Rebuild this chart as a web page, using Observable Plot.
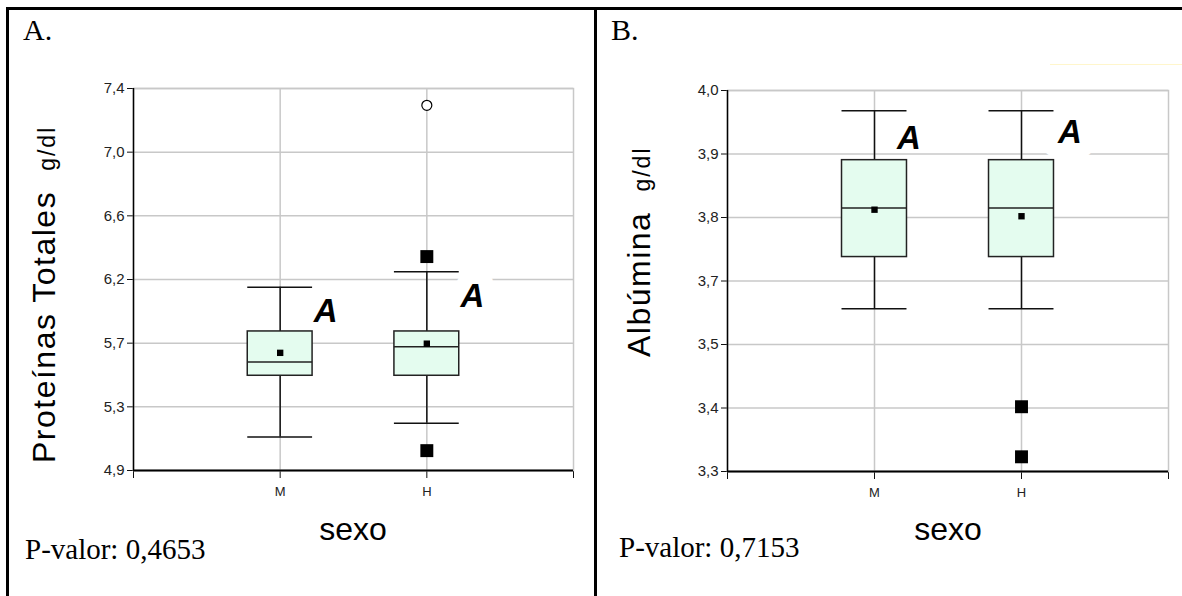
<!DOCTYPE html>
<html><head><meta charset="utf-8">
<script src="https://cdn.jsdelivr.net/npm/d3@7"></script>
<script src="https://cdn.jsdelivr.net/npm/@observablehq/plot@0.6"></script>
<style>
body{margin:0;background:#fff;}
#wrap{position:relative;width:1182px;height:596px;overflow:hidden;background:#fff;}
.pl{position:absolute;top:0;}
.ln{position:absolute;background:#000;}
#ov{position:absolute;left:0;top:0;pointer-events:none;}
</style></head><body>
<div id="wrap">
  <div id="pa" class="pl" style="left:0px"></div>
  <div id="pb" class="pl" style="left:595px"></div>
  <div class="ln" style="left:6px;top:7px;width:1176px;height:3px"></div>
  <div class="ln" style="left:6px;top:7px;width:3px;height:589px"></div>
  <div class="ln" style="left:594px;top:7px;width:3px;height:589px"></div>
  <div style="position:absolute;left:1050px;top:64px;width:132px;height:1px;background:#fff6cc"></div>
</div>
<script>
// ---------- data ----------
const categories = ["M", "H"];

// Panel A: Proteínas Totales (g/dl)
const protDomain = [4.9, 7.4];
const protTickLabels = ["4,9", "5,3", "5,7", "6,2", "6,6", "7,0", "7,4"];
const protQ1 = [5.52, 5.52];
const protMedian = [5.61, 5.71];
const protQ3 = [5.81, 5.81];
const protMean = [5.67, 5.73];
const protWhiskerLo = [5.12, 5.21];
const protWhiskerHi = [6.10, 6.20];
const protOutlierCat = ["H", "H"];
const protOutlierVal = [6.30, 5.03];
const protFarCat = ["H"];
const protFarVal = [7.29];
const protLetters = ["A", "A"];
const protLetterX = [1.31, 2.31];
const protLetterY = [5.87, 5.97];

// Panel B: Albúmina (g/dl)
const albDomain = [3.3, 4.0];
const albTickLabels = ["3,3", "3,4", "3,5", "3,7", "3,8", "3,9", "4,0"];
const albQ1 = [3.694, 3.694];
const albMedian = [3.784, 3.784];
const albQ3 = [3.872, 3.872];
const albMean = [3.781, 3.769];
const albWhiskerLo = [3.599, 3.599];
const albWhiskerHi = [3.963, 3.963];
const albOutlierCat = ["H", "H"];
const albOutlierVal = [3.419, 3.327];
const albFarCat = [];
const albFarVal = [];
const albLetters = ["A", "A"];
const albLetterX = [1.235, 2.33];
const albLetterY = [3.892, 3.903];

// ---------- chart ----------
const GRID = "#c8c8c8";
const INK = "#111";
const SANS = "'Liberation Sans', Arial, sans-serif";
const posOf = c => categories.indexOf(c) + 1;

function boxPanel(d, size) {
  const n = d.tickLabels.length;
  const step = (d.domain[1] - d.domain[0]) / (n - 1);
  const yTicks = d3.range(n).map(i => d.domain[0] + i * step);
  const yTickRows = yTicks.map((v, i) => ({v, label: d.tickLabels[i]}));
  const half = 0.221;
  const rows = categories.map((c, i) => ({
    cat: c, pos: i + 1, q1: d.q1[i], med: d.med[i], q3: d.q3[i], mean: d.mean[i], lo: d.lo[i], hi: d.hi[i]
  }));
  const outs = d.outCat.map((c, i) => ({pos: posOf(c), v: d.outVal[i]}));
  const far = d.farCat.map((c, i) => ({pos: posOf(c), v: d.farVal[i]}));
  const letters = d.letters.map((t, i) => ({t, x: d.letterX[i], y: d.letterY[i]}));
  const letterOpts = w => ({
    x: "x", y: "y", text: "t", fontSize: 33, fontWeight: "bold", fontStyle: "italic",
    fontFamily: SANS, lineAnchor: "bottom", textAnchor: "middle",
    fill: "#000", stroke: "white", strokeWidth: w, paintOrder: "stroke"
  });
  return Plot.plot({
    width: size.width, height: size.height,
    marginLeft: size.left, marginRight: size.right, marginTop: size.top, marginBottom: size.bottom,
    style: {fontFamily: SANS, color: "#111", background: "transparent", overflow: "visible"},
    x: {domain: [0, categories.length + 1], ticks: d3.range(categories.length + 2),
        tickFormat: () => "", tickSize: 8, label: null},
    y: {domain: d.domain, ticks: yTicks, tickFormat: () => "", tickSize: 6, label: null},
    marks: [
      Plot.frame({stroke: GRID, strokeWidth: 1.5}),
      Plot.ruleY(yTicks, {stroke: GRID, strokeWidth: 1.5}),
      Plot.ruleX(rows, {x: "pos", stroke: GRID, strokeWidth: 1.5}),
      Plot.ruleY([d.domain[0]], {stroke: "#000", strokeWidth: 2}),
      Plot.ruleX([0], {stroke: "#000", strokeWidth: 1.5}),
      // tick labels
      Plot.text(yTickRows, {x: 0, y: "v", text: "label", textAnchor: "end", dx: -9, fontSize: 15, fontFamily: SANS, fill: "#222"}),
      Plot.text(rows, {x: "pos", y: d.domain[0], text: "cat", dy: 21, fontSize: 13, fontFamily: SANS, fill: "#222"}),
      // box plots
      Plot.ruleX(rows, {x: "pos", y1: "q3", y2: "hi", stroke: INK, strokeWidth: 1.5}),
      Plot.ruleX(rows, {x: "pos", y1: "lo", y2: "q1", stroke: INK, strokeWidth: 1.5}),
      Plot.ruleY(rows, {y: "hi", x1: r => r.pos - half, x2: r => r.pos + half, stroke: INK, strokeWidth: 1.5}),
      Plot.ruleY(rows, {y: "lo", x1: r => r.pos - half, x2: r => r.pos + half, stroke: INK, strokeWidth: 1.5}),
      Plot.rect(rows, {x1: r => r.pos - half, x2: r => r.pos + half, y1: "q1", y2: "q3", fill: "#e4fcef", stroke: "#222", strokeWidth: 1.5}),
      Plot.ruleY(rows, {y: "med", x1: r => r.pos - half, x2: r => r.pos + half, stroke: "#222", strokeWidth: 1.5}),
      Plot.dot(rows, {x: "pos", y: "mean", symbol: "square", r: 3.6, fill: "#000"}),
      Plot.dot(outs, {x: "pos", y: "v", symbol: "square", r: 7.3, fill: "#000"}),
      Plot.dot(far, {x: "pos", y: "v", r: 5, fill: "#fff", stroke: "#000", strokeWidth: 1.2}),
      Plot.text(letters.slice(0, 1), letterOpts(6)),
      Plot.text(letters.slice(1), letterOpts(30))
    ]
  });
}

const chartA = boxPanel({
  domain: protDomain, tickLabels: protTickLabels, q1: protQ1, med: protMedian, q3: protQ3, mean: protMean,
  lo: protWhiskerLo, hi: protWhiskerHi, outCat: protOutlierCat, outVal: protOutlierVal,
  farCat: protFarCat, farVal: protFarVal, letters: protLetters, letterX: protLetterX, letterY: protLetterY
}, {width: 595, height: 560, left: 133, right: 22, top: 88, bottom: 90});
document.getElementById("pa").appendChild(chartA);

const chartB = boxPanel({
  domain: albDomain, tickLabels: albTickLabels, q1: albQ1, med: albMedian, q3: albQ3, mean: albMean,
  lo: albWhiskerLo, hi: albWhiskerHi, outCat: albOutlierCat, outVal: albOutlierVal,
  farCat: albFarCat, farVal: albFarVal, letters: albLetters, letterX: albLetterX, letterY: albLetterY
}, {width: 587, height: 560, left: 132, right: 14, top: 90, bottom: 89});
document.getElementById("pb").appendChild(chartB);

// ---------- surrounding text ----------
const ov = d3.select("#wrap").append("svg").attr("id", "ov").attr("width", 1182).attr("height", 596);
const serif = "'Liberation Serif', 'Times New Roman', serif";
function plain(x, y, txt, size, family, anchor) {
  ov.append("text").attr("x", x).attr("y", y).attr("font-size", size).attr("font-family", family)
    .attr("text-anchor", anchor || "start").attr("fill", "#000").text(txt);
}
plain(23, 40, "A.", 30, serif);
plain(611, 40, "B.", 30, serif);
plain(25, 559, "P-valor: 0,4653", 29, serif);
plain(619, 557, "P-valor: 0,7153", 29, serif);
plain(353, 540, "sexo", 32, SANS, "middle");
plain(948, 540, "sexo", 32, SANS, "middle");
function ylab(x, y, main) {
  const t = ov.append("text").attr("transform", `translate(${x},${y}) rotate(-90)`)
    .attr("font-family", SANS).attr("fill", "#000");
  t.append("tspan").attr("font-size", 32).attr("letter-spacing", 1.5).text(main);
  t.append("tspan").attr("dx", 20).attr("font-size", 23).attr("letter-spacing", 2).text("g/dl");
}
ylab(55, 463, "Proteínas Totales");
ylab(650, 357, "Albúmina");
</script>
</body></html>
